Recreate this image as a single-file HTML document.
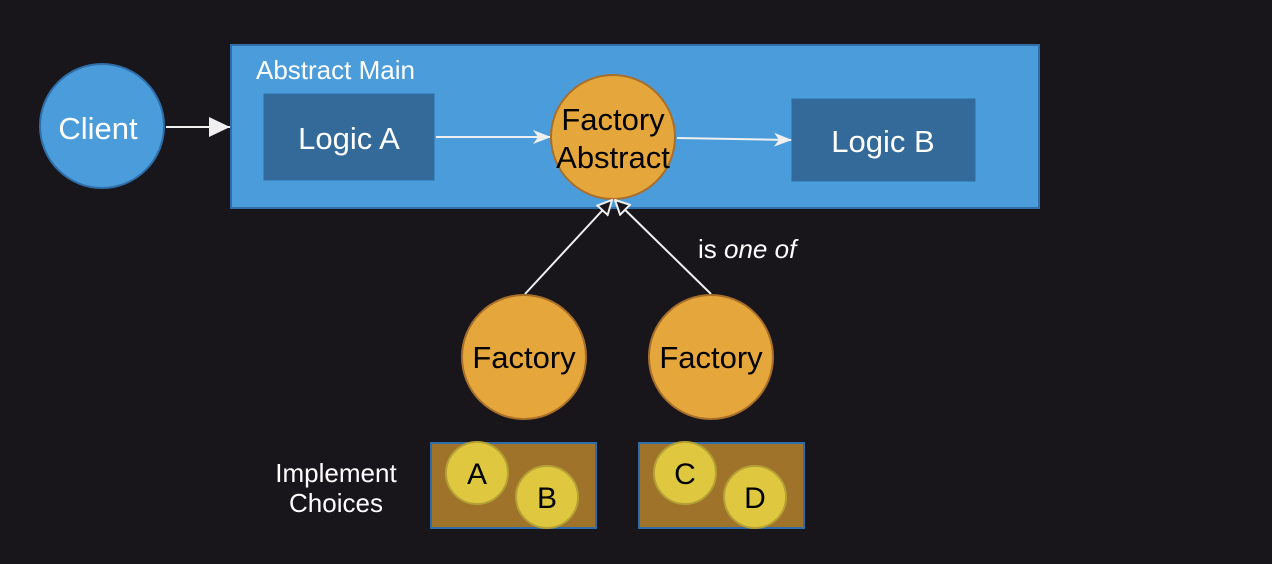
<!DOCTYPE html>
<html><head><meta charset="utf-8"><style>
html,body{margin:0;padding:0;background:#18161b;width:1272px;height:564px;overflow:hidden}
svg{display:block}
text{font-family:"Liberation Sans",Arial,sans-serif}
</style></head><body>
<svg width="1272" height="564" viewBox="0 0 1272 564" xmlns="http://www.w3.org/2000/svg">
<defs>
<marker id="fa" markerWidth="18" markerHeight="16" refX="17" refY="8" orient="auto" markerUnits="userSpaceOnUse">
<path d="M0,1 L18,8 L0,15 L5,8 Z" fill="#f0f0f0"/></marker>
<marker id="big" markerWidth="22" markerHeight="22" refX="21" refY="11" orient="auto" markerUnits="userSpaceOnUse">
<path d="M0,1 L21,11 L0,21 Z" fill="#f0f0f0"/></marker>
<marker id="tri" markerWidth="16" markerHeight="16" refX="15" refY="8" orient="auto" markerUnits="userSpaceOnUse">
<path d="M1,1 L15,8 L1,15 Z" fill="#18161b" stroke="#f0f0f0" stroke-width="2"/></marker>
</defs>
<rect width="1272" height="564" fill="#18161b"/>
<rect x="231" y="45" width="808" height="163" fill="#4b9cdb" stroke="#2f6ea8" stroke-width="2"/>
<text x="256" y="79" font-size="26" fill="#fff">Abstract Main</text>
<rect x="264" y="94" width="170" height="86" fill="#336a99" stroke="#2f6ea8"/>
<text x="349" y="149" font-size="31" fill="#fff" text-anchor="middle">Logic A</text>
<rect x="792" y="99" width="183" height="82" fill="#336a99" stroke="#2f6ea8"/>
<text x="883" y="152" font-size="31" fill="#fff" text-anchor="middle">Logic B</text>
<circle cx="102" cy="126" r="62" fill="#4b9cdb" stroke="#2f6ea8" stroke-width="2"/>
<text x="98" y="139" font-size="31" fill="#fff" text-anchor="middle">Client</text>
<line x1="166" y1="127" x2="230" y2="127" stroke="#f0f0f0" stroke-width="2" marker-end="url(#big)"/>
<line x1="436" y1="137" x2="550" y2="137" stroke="#f0f0f0" stroke-width="2" marker-end="url(#fa)"/>
<line x1="677" y1="138" x2="791" y2="140" stroke="#f0f0f0" stroke-width="2" marker-end="url(#fa)"/>
<circle cx="613" cy="137" r="62" fill="#e5a63c" stroke="#a86f2a" stroke-width="2"/>
<text x="613" y="130" font-size="31" fill="#000" text-anchor="middle">Factory</text>
<text x="613" y="168" font-size="31" fill="#000" text-anchor="middle">Abstract</text>
<line x1="525" y1="294" x2="612" y2="200" stroke="#f0f0f0" stroke-width="2" marker-end="url(#tri)"/>
<line x1="711" y1="294" x2="615" y2="200" stroke="#f0f0f0" stroke-width="2" marker-end="url(#tri)"/>
<text x="698" y="258" font-size="26" fill="#fff">is <tspan font-style="italic">one of</tspan></text>
<circle cx="524" cy="357" r="62" fill="#e5a63c" stroke="#a86f2a" stroke-width="2"/>
<text x="524" y="368" font-size="31" fill="#000" text-anchor="middle">Factory</text>
<circle cx="711" cy="357" r="62" fill="#e5a63c" stroke="#a86f2a" stroke-width="2"/>
<text x="711" y="368" font-size="31" fill="#000" text-anchor="middle">Factory</text>
<text x="336" y="482" font-size="26" fill="#fff" text-anchor="middle">Implement</text>
<text x="336" y="512" font-size="26" fill="#fff" text-anchor="middle">Choices</text>
<rect x="431" y="443" width="165" height="85" fill="#a0732a" stroke="#2f6ea8" stroke-width="2"/>
<rect x="639" y="443" width="165" height="85" fill="#a0732a" stroke="#2f6ea8" stroke-width="2"/>
<circle cx="477" cy="473" r="31" fill="#dfc840" stroke="#b4a034" stroke-width="2"/>
<circle cx="547" cy="497" r="31" fill="#dfc840" stroke="#b4a034" stroke-width="2"/>
<circle cx="685" cy="473" r="31" fill="#dfc840" stroke="#b4a034" stroke-width="2"/>
<circle cx="755" cy="497" r="31" fill="#dfc840" stroke="#b4a034" stroke-width="2"/>
<text x="477" y="484" font-size="30" fill="#000" text-anchor="middle">A</text>
<text x="547" y="508" font-size="30" fill="#000" text-anchor="middle">B</text>
<text x="685" y="484" font-size="30" fill="#000" text-anchor="middle">C</text>
<text x="755" y="508" font-size="30" fill="#000" text-anchor="middle">D</text>
</svg>
</body></html>
